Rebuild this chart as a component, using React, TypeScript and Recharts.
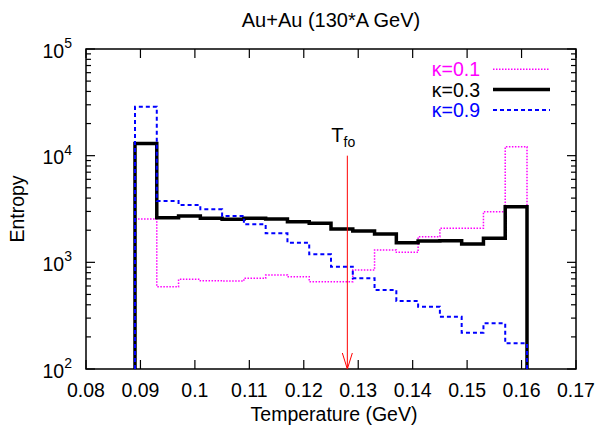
import React from "react";
import { ComposedChart, Line, XAxis, YAxis, ReferenceArea, ReferenceLine } from "recharts";

// bin edges of the temperature histogram (GeV)
const binEdges = [0.089, 0.093, 0.097, 0.101, 0.105, 0.109, 0.113, 0.117, 0.121, 0.125, 0.129, 0.133, 0.137, 0.141, 0.145, 0.149, 0.153, 0.157, 0.161];

// entropy per bin
const kappa01 = [2545, 590, 693, 673, 668, 708, 760, 733, 658, 658, 847, 1304, 1240, 1738, 2083, 2083, 2980, 12120];
const kappa03 = [13000, 2618, 2715, 2585, 2530, 2585, 2545, 2402, 2321, 2052, 1965, 1842, 1527, 1585, 1594, 1484, 1679, 3320];
const kappa09 = [28700, 3752, 3443, 3140, 2715, 2270, 1870, 1527, 1189, 910, 708, 550, 434, 384, 309, 219, 268, 174];

const xTicks = [0.08, 0.09, 0.1, 0.11, 0.12, 0.13, 0.14, 0.15, 0.16, 0.17];
const yTicks = [
  100, 200, 300, 400, 500, 600, 700, 800, 900,
  1000, 2000, 3000, 4000, 5000, 6000, 7000, 8000, 9000,
  10000, 20000, 30000, 40000, 50000, 60000, 70000, 80000, 90000,
  100000,
];
const yFloor = 100;

const freezeOut = { t: 0.128, from: 10000, to: 100 };

const legendItems = [
  { label: "κ=0.1", color: "#ff00ff", width: 1.5, dash: "1.5 1.5" },
  { label: "κ=0.3", color: "#000000", width: 3.5, dash: undefined },
  { label: "κ=0.9", color: "#0000ff", width: 2, dash: "4 3" },
];

// step-histogram rows: rise from floor, one row per bin, fall back to floor
const rows: { t: number; k01: number; k03: number; k09: number }[] = [];
rows.push({ t: binEdges[0], k01: yFloor, k03: yFloor, k09: yFloor });
kappa03.forEach((_, i) => {
  rows.push({ t: binEdges[i], k01: kappa01[i], k03: kappa03[i], k09: kappa09[i] });
});
rows.push({ t: binEdges[binEdges.length - 1], k01: yFloor, k03: yFloor, k09: yFloor });

const PLOT = { left: 86, right: 576, top: 49, bottom: 369 };
const FONT = "'Liberation Sans', Arial, Helvetica, sans-serif";
const FS = 19.5;

function XTick(props: any) {
  const { x, payload } = props;
  return (
    <g>
      <line x1={x} x2={x} y1={PLOT.bottom} y2={PLOT.bottom - 9} stroke="#000" strokeWidth={1.2} />
      <line x1={x} x2={x} y1={PLOT.top} y2={PLOT.top + 9} stroke="#000" strokeWidth={1.2} />
      <text x={x} y={397} textAnchor="middle" fontSize={FS} fontFamily={FONT} fill="#000">
        {String(payload.value)}
      </text>
    </g>
  );
}

function YTick(props: any) {
  const { y, payload } = props;
  const v = payload.value as number;
  const exp = Math.log10(v);
  const major = Math.abs(exp - Math.round(exp)) < 1e-9;
  const len = major ? 9 : 5;
  return (
    <g>
      <line x1={PLOT.left} x2={PLOT.left + len} y1={y} y2={y} stroke="#000" strokeWidth={1.2} />
      <line x1={PLOT.right} x2={PLOT.right - len} y1={y} y2={y} stroke="#000" strokeWidth={1.2} />
      {major && (
        <text x={72} y={y + 8.5} textAnchor="end" fontSize={FS} fontFamily={FONT} fill="#000">
          10
          <tspan dy={-9.5} fontSize={14}>
            {Math.round(exp)}
          </tspan>
        </text>
      )}
    </g>
  );
}

function FreezeOutArrow(props: any) {
  const { x1, y1, x2, y2 } = props;
  return (
    <g>
      <line x1={x1} y1={y1} x2={x2} y2={y2} stroke="#ff0000" strokeWidth={1} />
      <polyline
        points={`${x2 - 5},${y2 - 16} ${x2},${y2} ${x2 + 5},${y2 - 16}`}
        fill="none"
        stroke="#ff0000"
        strokeWidth={1}
      />
      <text x={x1 - 16} y={y1 - 14} fontSize={20} fontFamily={FONT} fill="#000">
        T
        <tspan dy={5} fontSize={14}>
          fo
        </tspan>
      </text>
    </g>
  );
}

export default function App() {
  return (
    <div style={{ position: "absolute", left: 0, top: 0, width: 600, height: 435, background: "#fff" }}>
      <ComposedChart
        width={600}
        height={435}
        data={rows}
        margin={{ top: PLOT.top, right: 600 - PLOT.right, bottom: 435 - PLOT.bottom - 30, left: PLOT.left - 60 }}
      >
        <XAxis
          dataKey="t"
          type="number"
          domain={[0.08, 0.17]}
          ticks={xTicks}
          interval={0}
          allowDataOverflow
          axisLine={false}
          tickLine={false}
          tickSize={0}
          tickMargin={0}
          height={30}
          tick={<XTick />}
        />
        <YAxis
          type="number"
          scale="log"
          domain={[100, 100000]}
          ticks={yTicks}
          interval={0}
          allowDataOverflow
          axisLine={false}
          tickLine={false}
          tickSize={0}
          tickMargin={0}
          width={60}
          tick={<YTick />}
        />
        <ReferenceArea
          x1={0.08}
          x2={0.17}
          y1={100}
          y2={100000}
          fill="none"
          fillOpacity={0}
          stroke="#000"
          strokeWidth={1.5}
          ifOverflow="visible"
        />
        <Line
          type="stepAfter"
          dataKey="k01"
          stroke="#ff00ff"
          strokeWidth={1.5}
          strokeDasharray="1.5 1.5"
          dot={false}
          activeDot={false}
          isAnimationActive={false}
        />
        <Line
          type="stepAfter"
          dataKey="k03"
          stroke="#000000"
          strokeWidth={3.5}
          dot={false}
          activeDot={false}
          isAnimationActive={false}
        />
        <Line
          type="stepAfter"
          dataKey="k09"
          stroke="#0000ff"
          strokeWidth={2}
          strokeDasharray="4 3"
          dot={false}
          activeDot={false}
          isAnimationActive={false}
        />
        <ReferenceLine
          segment={[
            { x: freezeOut.t, y: freezeOut.from },
            { x: freezeOut.t, y: freezeOut.to },
          ]}
          stroke="#ff0000"
          ifOverflow="visible"
          shape={<FreezeOutArrow />}
        />
      </ComposedChart>
      <svg
        width={600}
        height={435}
        style={{ position: "absolute", left: 0, top: 0, pointerEvents: "none" }}
      >
        <text x={331} y={27} textAnchor="middle" fontSize={20} fontFamily={FONT} fill="#000">
          Au+Au (130*A GeV)
        </text>
        <text x={334} y={421} textAnchor="middle" fontSize={FS} fontFamily={FONT} fill="#000">
          Temperature (GeV)
        </text>
        <text
          x={23.5}
          y={209}
          textAnchor="middle"
          fontSize={FS}
          fontFamily={FONT}
          fill="#000"
          transform="rotate(-90 23.5 209)"
        >
          Entropy
        </text>
        {legendItems.map((item, i) => {
          const cy = 69.3 + i * 20.3;
          return (
            <g key={item.label}>
              <text x={480} y={cy + 7} textAnchor="end" fontSize={FS} fontFamily={FONT} fill={item.color}>
                {item.label}
              </text>
              <line
                x1={493}
                x2={550}
                y1={cy}
                y2={cy}
                stroke={item.color}
                strokeWidth={item.width}
                strokeDasharray={item.dash}
              />
            </g>
          );
        })}
      </svg>
    </div>
  );
}
